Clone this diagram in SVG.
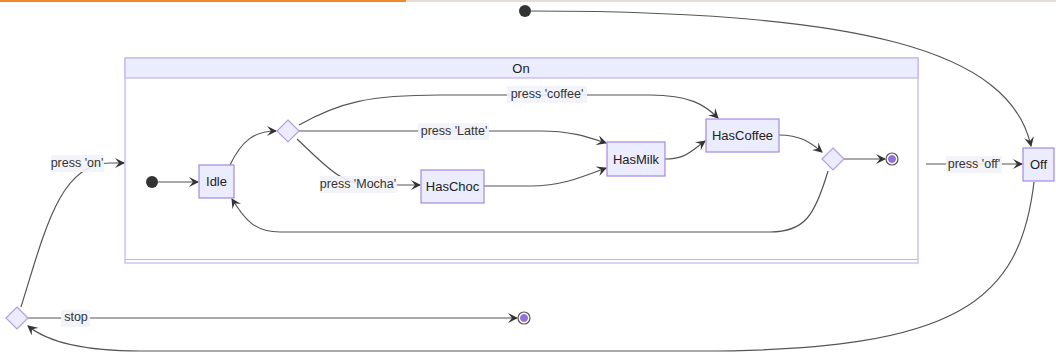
<svg xmlns="http://www.w3.org/2000/svg" width="1056" height="355" viewBox="0 0 1056 355">
<style>
.node rect{fill:#ECECFF;stroke:#a48ae0;stroke-width:1.2}
.choice{fill:#ECECFF;stroke:#b49de8;stroke-width:1.2}
.t{font-family:"Liberation Sans",Arial,sans-serif;font-size:13px;fill:#222;text-anchor:middle;dominant-baseline:central}
.lbl{font-family:"Liberation Sans",Arial,sans-serif;font-size:12.5px;fill:#333;text-anchor:middle;dominant-baseline:central}
.lb{fill:#f2f2f9;opacity:0.9}
.e{fill:none;stroke:#555;stroke-width:1.2}
.start{fill:#333}
.endo{fill:#fff;stroke:#555;stroke-width:1.2}
.endi{fill:#9370DB;stroke:#9370DB}
</style>
<defs>
<marker id="arr" markerUnits="userSpaceOnUse" viewBox="0 0 10 10" refX="9" refY="5" markerWidth="10" markerHeight="10" orient="auto">
<path d="M0,0 L10,5 L0,10 L4,5 z" fill="#333"/>
</marker>
</defs>
<rect x="0" y="0" width="406" height="2" fill="#f08a24"/>
<rect x="406" y="0" width="650" height="2" fill="#e9ddd3"/>

<g id="On">
<rect x="125" y="58" width="793" height="205" fill="#fff" stroke="#c4b3ee" stroke-width="1.2"/>
<rect x="125" y="58" width="793" height="20" fill="#ECECFF" stroke="#c4b3ee" stroke-width="1.2"/>
<line x1="125" y1="259.5" x2="918" y2="259.5" stroke="#c4b3ee" stroke-width="1.2"/>
<text class="t" x="521" y="68">On</text>
</g>

<g id="edges">
<path class="e" d="M531,11 C860,11 1010,50 1031,146" marker-end="url(#arr)"/>
<path class="e" d="M1034,182 C1020,300 960,351 700,351 L140,351 C80,351 45,340 28,326" marker-end="url(#arr)"/>
<path class="e" d="M21,307 C45,230 60,163 110,163 L124,163" marker-end="url(#arr)"/>
<path class="e" d="M28,318 L517,318" marker-end="url(#arr)"/>
<path class="e" d="M926,164 L1022,164" marker-end="url(#arr)"/>
<path class="e" d="M158,182 L198,182" marker-end="url(#arr)"/>
<path class="e" d="M230,165 C242,140 255,131 276,131" marker-end="url(#arr)"/>
<path class="e" d="M299,125 C340,102 370,95 440,95 L650,95 C690,95 705,105 718,118" marker-end="url(#arr)"/>
<path class="e" d="M299,131 L540,131 C570,131 585,136 606,143" marker-end="url(#arr)"/>
<path class="e" d="M297,139 C325,165 340,184 370,185 L420,185" marker-end="url(#arr)"/>
<path class="e" d="M484,186 L530,186 C560,186 580,178 606,168" marker-end="url(#arr)"/>
<path class="e" d="M665,159 C685,159 690,152 705,141" marker-end="url(#arr)"/>
<path class="e" d="M779,135 C800,135 810,142 822,152" marker-end="url(#arr)"/>
<path class="e" d="M844,159 L885,159" marker-end="url(#arr)"/>
<path class="e" d="M828,171 C815,215 805,232 770,232 L280,232 C255,232 245,220 232,199" marker-end="url(#arr)"/>
</g>

<g id="labels">
<rect class="lb" x="51" y="155" width="53" height="17"/><text class="lbl" x="77" y="163">press 'on'</text>
<rect class="lb" x="61" y="310" width="29" height="17"/><text class="lbl" x="76" y="317">stop</text>
<rect class="lb" x="946" y="156" width="56" height="17"/><text class="lbl" x="974" y="164">press 'off'</text>
<rect class="lb" x="507" y="86" width="80" height="17"/><text class="lbl" x="547" y="94">press 'coffee'</text>
<rect class="lb" x="418" y="123" width="71" height="17"/><text class="lbl" x="454" y="131">press 'Latte'</text>
<rect class="lb" x="320" y="176" width="77" height="17"/><text class="lbl" x="358" y="184">press 'Mocha'</text>
</g>

<g id="start_top"><circle class="start" cx="525" cy="11" r="6"/></g>
<g id="start_inner"><circle class="start" cx="152" cy="182" r="6"/></g>
<g id="Idle" class="node"><rect x="199" y="165" width="35" height="33"/><text class="t" x="216.5" y="181.5">Idle</text></g>
<g id="choice1"><polygon class="choice" points="288,120 299,131 288,142 277,131"/></g>
<g id="HasChoc" class="node"><rect x="421" y="170" width="63" height="33"/><text class="t" x="452.5" y="186.5">HasChoc</text></g>
<g id="HasMilk" class="node"><rect x="607" y="142" width="58" height="34"/><text class="t" x="636" y="159">HasMilk</text></g>
<g id="HasCoffee" class="node"><rect x="706" y="119" width="73" height="33"/><text class="t" x="742.5" y="135.5">HasCoffee</text></g>
<g id="choice2"><polygon class="choice" points="833,148 844,159 833,170 822,159"/></g>
<g id="end_inner"><circle class="endo" cx="892" cy="159" r="6"/><circle class="endi" cx="892" cy="159" r="3.5"/></g>
<g id="Off" class="node"><rect x="1023" y="148" width="31" height="33"/><text class="t" x="1038.5" y="164.5">Off</text></g>
<g id="choice3"><polygon class="choice" points="17,307 28,318 17,329 6,318"/></g>
<g id="end_bottom"><circle class="endo" cx="524" cy="318" r="6"/><circle class="endi" cx="524" cy="318" r="3.5"/></g>
</svg>
